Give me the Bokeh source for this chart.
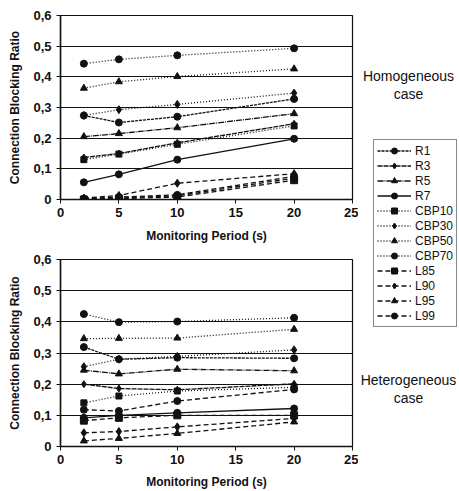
from bokeh.plotting import figure
from bokeh.layouts import row, column
from bokeh.models import Range1d, FixedTicker, Legend, LegendItem, Label, ColumnDataSource
from bokeh.embed import file_html
from bokeh.resources import INLINE

# ---------------- data ----------------
periods = [2, 5, 10, 20]
series = ["R1", "R3", "R5", "R7", "CBP10", "CBP30", "CBP50", "CBP70",
          "L85", "L90", "L95", "L99"]

homog_R1 = [0.274, 0.251, 0.270, 0.328]
homog_R3 = [0.137, 0.150, 0.185, 0.247]
homog_R5 = [0.205, 0.215, 0.234, 0.280]
homog_R7 = [0.056, 0.082, 0.130, 0.198]
homog_CBP10 = [0.130, 0.148, 0.180, 0.240]
homog_CBP30 = [0.274, 0.293, 0.310, 0.347]
homog_CBP50 = [0.363, 0.384, 0.401, 0.426]
homog_CBP70 = [0.443, 0.457, 0.470, 0.493]
homog_L85 = [0.000, 0.003, 0.008, 0.063]
homog_L90 = [0.005, 0.013, 0.053, 0.084]
homog_L95 = [0.002, 0.005, 0.012, 0.070]
homog_L99 = [0.003, 0.008, 0.015, 0.076]

heter_R1 = [0.319, 0.280, 0.285, 0.283]
heter_R3 = [0.200, 0.186, 0.182, 0.201]
heter_R5 = [0.245, 0.233, 0.248, 0.243]
heter_R7 = [0.092, 0.100, 0.108, 0.122]
heter_CBP10 = [0.140, 0.162, 0.178, 0.190]
heter_CBP30 = [0.256, 0.280, 0.289, 0.310]
heter_CBP50 = [0.346, 0.347, 0.348, 0.376]
heter_CBP70 = [0.425, 0.399, 0.401, 0.413]
heter_L85 = [0.083, 0.092, 0.100, 0.100]
heter_L90 = [0.044, 0.048, 0.063, 0.090]
heter_L95 = [0.018, 0.026, 0.042, 0.079]
heter_L99 = [0.118, 0.114, 0.146, 0.183]

homog = [homog_R1, homog_R3, homog_R5, homog_R7, homog_CBP10, homog_CBP30,
         homog_CBP50, homog_CBP70, homog_L85, homog_L90, homog_L95, homog_L99]
heter = [heter_R1, heter_R3, heter_R5, heter_R7, heter_CBP10, heter_CBP30,
         heter_CBP50, heter_CBP70, heter_L85, heter_L90, heter_L95, heter_L99]

x_ticks = [0, 5, 10, 15, 20, 25]
y_ticks = [0, 0.1, 0.2, 0.3, 0.4, 0.5, 0.6]
y_tick_labels = ["0", "0,1", "0,2", "0,3", "0,4", "0,5", "0,6"]

# ---------------- styles ----------------
INK = "#111111"
styles = {
    "R1":    dict(dash="3 1", marker="circle", size=7),
    "R3":    dict(dash="5 1", marker="diamond", size=7),
    "R5":    dict(dash="6 1 1 1", marker="triangle", size=7),
    "R7":    dict(dash="solid", marker="circle", size=7),
    "CBP10": dict(dash="1 2", marker="square", size=6),
    "CBP30": dict(dash="1 2", marker="diamond", size=8),
    "CBP50": dict(dash="1 2", marker="triangle", size=7),
    "CBP70": dict(dash="1 2", marker="circle", size=7),
    "L85":   dict(dash="5 3", marker="square", size=7),
    "L90":   dict(dash="5 3", marker="diamond", size=8),
    "L95":   dict(dash="5 3", marker="triangle", size=7),
    "L99":   dict(dash="5 3", marker="circle", size=7),
}

FONT = "Liberation Sans"


def make_panel(values, height, border_top, border_bottom, title_standoff):
    p = figure(width=358, height=height, output_backend="svg", toolbar_location=None,
               x_range=Range1d(0, 25), y_range=Range1d(0, 0.6),
               min_border_left=60, min_border_right=6,
               min_border_top=border_top, min_border_bottom=border_bottom)
    p.background_fill_color = "white"
    p.border_fill_color = "white"
    p.outline_line_color = INK
    p.outline_line_width = 1.2
    p.xgrid.visible = False
    p.ygrid.grid_line_color = INK
    p.ygrid.grid_line_width = 1.2
    p.ygrid.ticker = FixedTicker(ticks=y_ticks)

    p.xaxis.ticker = FixedTicker(ticks=x_ticks)
    p.yaxis.ticker = FixedTicker(ticks=y_ticks)
    p.yaxis.major_label_overrides = {t: l for t, l in zip(y_ticks, y_tick_labels)}
    for ax in (p.xaxis, p.yaxis):
        ax.axis_line_color = INK
        ax.axis_line_width = 1.5
        ax.major_tick_line_color = INK
        ax.major_tick_in = 0
        ax.major_tick_out = 4
        ax.minor_tick_line_color = None
        ax.major_label_text_font = FONT
        ax.major_label_text_font_style = "bold"
        ax.major_label_text_font_size = "13px"
        ax.major_label_text_color = INK
        ax.axis_label_text_font = FONT
        ax.axis_label_text_font_style = "bold"
        ax.axis_label_text_font_size = "12px"
        ax.axis_label_text_color = INK
    p.xaxis.axis_label = "Monitoring Period (s)"
    p.yaxis.axis_label = "Connection Blocking Ratio"
    p.xaxis.axis_label_standoff = title_standoff
    p.xaxis.major_label_standoff = 4
    p.yaxis.axis_label_standoff = 8

    for name, vals in zip(series, values):
        st = styles[name]
        src = ColumnDataSource(dict(x=periods, y=vals))
        p.line("x", "y", source=src, line_color=INK, line_width=1.3, line_dash=st["dash"])
        p.scatter("x", "y", source=src, marker=st["marker"], size=st["size"],
                  fill_color=INK, line_color=INK)
    return p


top = make_panel(homog, 245, 15, 46, 9)
bottom = make_panel(heter, 246, 14, 43, 8)

# right side: captions and legend (page-pixel coordinates)
side = figure(width=101, height=491, output_backend="svg", toolbar_location=None,
              x_range=Range1d(358, 459), y_range=Range1d(491, 0),
              min_border=0, min_border_left=0, min_border_right=0,
              min_border_top=0, min_border_bottom=0)
side.axis.visible = False
side.grid.visible = False
side.outline_line_color = None
side.background_fill_color = "white"
side.border_fill_color = "white"

for txt, yy in (("Homogeneous", 75), ("case", 93), ("Heterogeneous", 379), ("case", 397)):
    side.add_layout(Label(x=408, y=yy, text=txt, text_align="center",
                          text_baseline="middle", text_font=FONT,
                          text_font_size="14px", text_color=INK))

# legend renderers: the homogeneous series drawn again, outside this panel's view
items = []
for name, vals in zip(series, homog):
    st = styles[name]
    src = ColumnDataSource(dict(x=periods, y=vals))
    lr = side.line("x", "y", source=src, line_color=INK, line_width=1.3, line_dash=st["dash"])
    sr = side.scatter("x", "y", source=src, marker=st["marker"], size=st["size"] - 1,
                      fill_color=INK, line_color=INK)
    items.append(LegendItem(label=name, renderers=[lr, sr]))

legend = Legend(items=items, location=(15, 164), orientation="vertical",
                label_text_font=FONT, label_text_font_size="12px",
                label_text_color=INK, label_height=15, glyph_height=15,
                glyph_width=34, spacing=0, padding=3, margin=0,
                label_standoff=4,
                border_line_color=INK, border_line_width=1.5,
                background_fill_color="white", background_fill_alpha=1.0)
side.add_layout(legend, "center")

layout = row(column(top, bottom), side)

open("out.html", "w").write(file_html(layout, INLINE))
